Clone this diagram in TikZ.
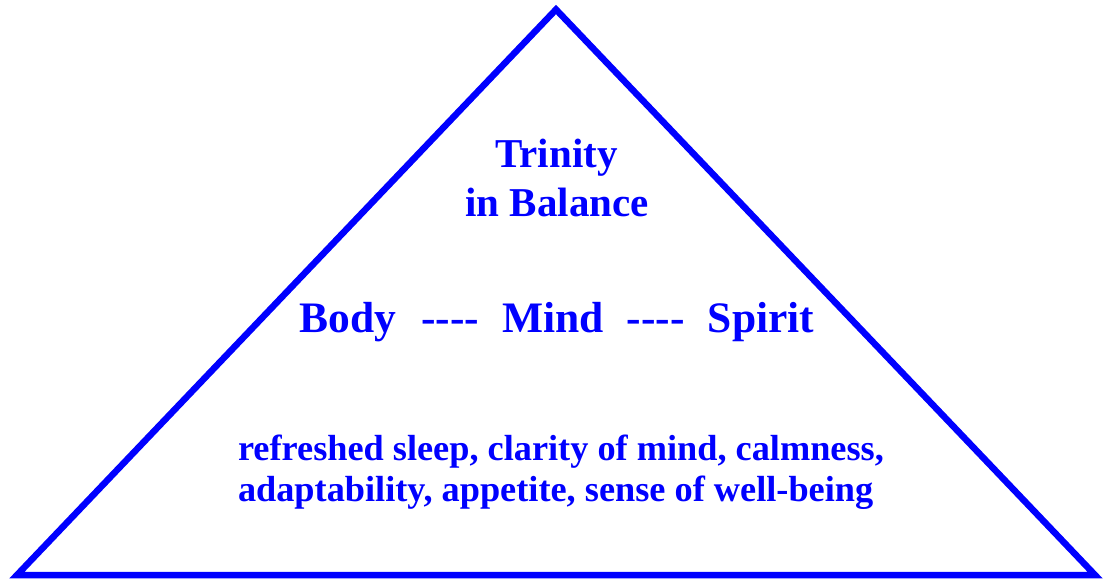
\documentclass[tikz,border=0pt]{standalone}
\usepackage{fontspec}
\setmainfont{Liberation Serif}
\definecolor{pblue}{RGB}{0,0,255}
\newcommand\hy{\mbox{-}}
\tikzset{
  txt/.style={text=pblue, font=\bfseries, inner sep=0pt, outer sep=0pt},
  edge/.style={draw=pblue, line width=6.5pt, line join=miter}
}
\begin{document}
\begin{tikzpicture}[x=1pt,y=-1pt]
\useasboundingbox (0,0) rectangle (1104,580);
\coordinate (apex) at (556,9.5);
\coordinate (bl) at (17,575);
\coordinate (br) at (1095,575);
\draw[edge] (apex) -- (bl) -- (br) -- cycle;
\node[txt, anchor=base, font=\bfseries\fontsize{41}{48}\selectfont] (t1) at (556.5,168) {Trinity};
\node[txt, anchor=base, font=\bfseries\fontsize{41}{48}\selectfont] (t2) at (557,217) {in Balance};
\node[txt, anchor=base, font=\bfseries\fontsize{43.5}{50}\selectfont] (bms) at (557,333) {Body\hspace{25pt}\hy\hy\hy\hy\hspace{23pt}Mind\hspace{23pt}\hy\hy\hy\hy\hspace{23pt}Spirit};
\node[txt, anchor=base west, font=\bfseries\fontsize{36.3}{42}\selectfont] (l1) at (238,460) {refreshed sleep, clarity of mind, calmness,};
\node[txt, anchor=base west, font=\bfseries\fontsize{36.3}{42}\selectfont] (l2) at (238,501) {adaptability, appetite, sense of well-being};
\end{tikzpicture}
\end{document}
